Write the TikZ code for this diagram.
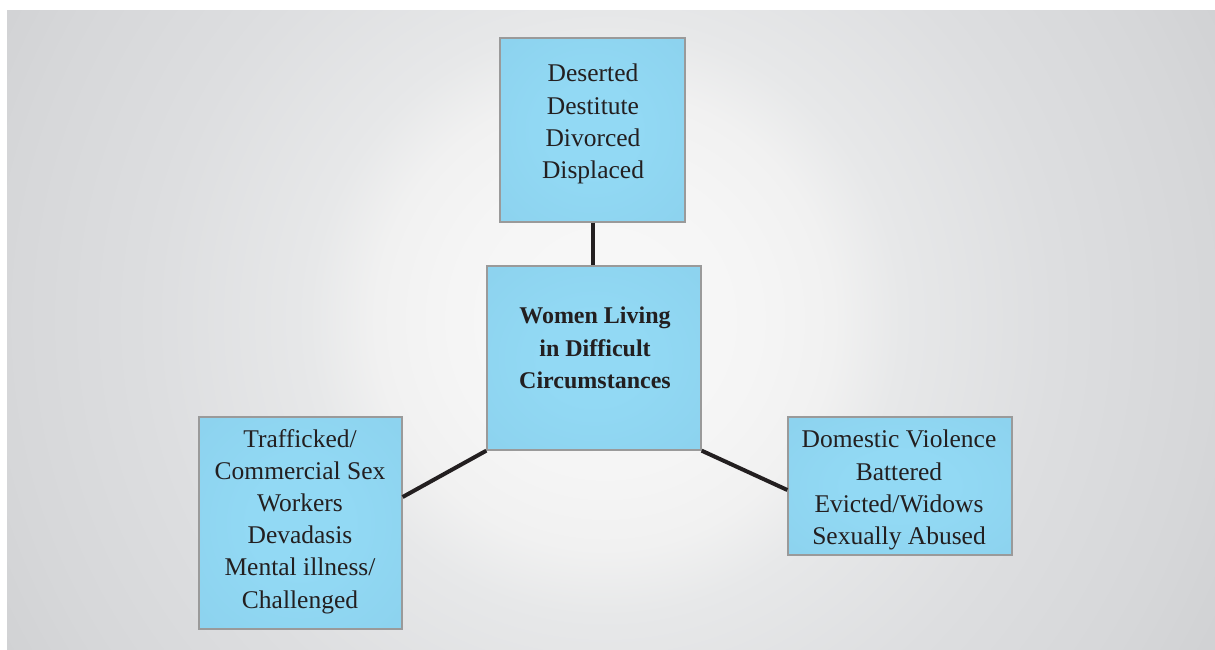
\documentclass[tikz,border=0pt]{standalone}
\usepackage{fontspec}
\setmainfont{Liberation Serif}
\definecolor{bg0}{HTML}{F9F9F9}
\definecolor{bg1}{HTML}{F5F5F5}
\definecolor{bg2}{HTML}{F1F1F1}
\definecolor{bg3}{HTML}{E7E8E9}
\definecolor{bg4}{HTML}{DDDEE0}
\definecolor{bg5}{HTML}{D6D7D9}
\definecolor{bg6}{HTML}{D0D1D3}
\definecolor{bg7}{HTML}{CCCDCF}
\definecolor{boxin}{HTML}{92D9F4}
\definecolor{boxout}{HTML}{86CBE8}
\definecolor{boxline}{HTML}{9A9A9A}
\definecolor{ink}{HTML}{231F20}
\pgfdeclareradialshading{bgshade}{\pgfpoint{0bp}{0bp}}{color(0bp)=(bg0); color(150bp)=(bg1); color(228bp)=(bg2); color(295bp)=(bg3); color(450bp)=(bg4); color(603bp)=(bg5); color(698bp)=(bg6); color(760bp)=(bg7)}
\pgfdeclareradialshading{boxshade}{\pgfpoint{0bp}{0bp}}{color(0bp)=(boxin); color(12bp)=(boxin); color(62bp)=(boxout); color(72bp)=(boxout)}
\tikzset{
  box/.style={draw=boxline, line width=1.3pt, shade, shading=boxshade, inner sep=0pt, rectangle},
  txt/.style={inner sep=0pt, align=center, text=ink, font=\fontsize{25.5}{32.2}\selectfont},
  txtb/.style={inner sep=0pt, align=center, text=ink, font=\bfseries\fontsize{24}{32.2}\selectfont},
  conn/.style={draw=ink, line width=4pt}
}
\begin{document}
\begin{tikzpicture}[x=1pt,y=-1pt]
\useasboundingbox (0,0) rectangle (1215,650);
\fill[white] (0,0) rectangle (1215,650);
\begin{scope}
\clip (7,11) rectangle (1215,650);
\node[inner sep=0pt, outer sep=0pt] (bgshading) at (605,320) {\pgfuseshading{bgshade}};
\end{scope}
\node[box, minimum width=185pt, minimum height=184pt] (top) at (592.5,130) {};
\node[box, minimum width=214pt, minimum height=184pt] (center) at (594,358) {};
\node[box, minimum width=203pt, minimum height=212pt] (left) at (300.5,523) {};
\node[box, minimum width=224pt, minimum height=138pt] (right) at (900,486) {};
\draw[conn] (top.south) -- (top.south |- center.north);
\draw[conn] ([yshift=26pt]left.east) -- (center.south west);
\draw[conn] (center.south east) -- ([yshift=-4pt]right.west);
\node[txt, anchor=north] (topt) at (593,64) {Deserted\\Destitute\\Divorced\\Displaced};
\node[txtb, anchor=north] (ctrt) at (595,307) {Women Living\\in Difficult\\Circumstances};
\node[txt, anchor=north] (leftt) at (300,429) {Trafficked/\\Commercial Sex\\Workers\\Devadasis\\Mental illness/\\Challenged};
\node[txt, anchor=north] (rightt) at (899,430) {Domestic Violence\\Battered\\Evicted/Widows\\Sexually Abused};
\end{tikzpicture}
\end{document}
